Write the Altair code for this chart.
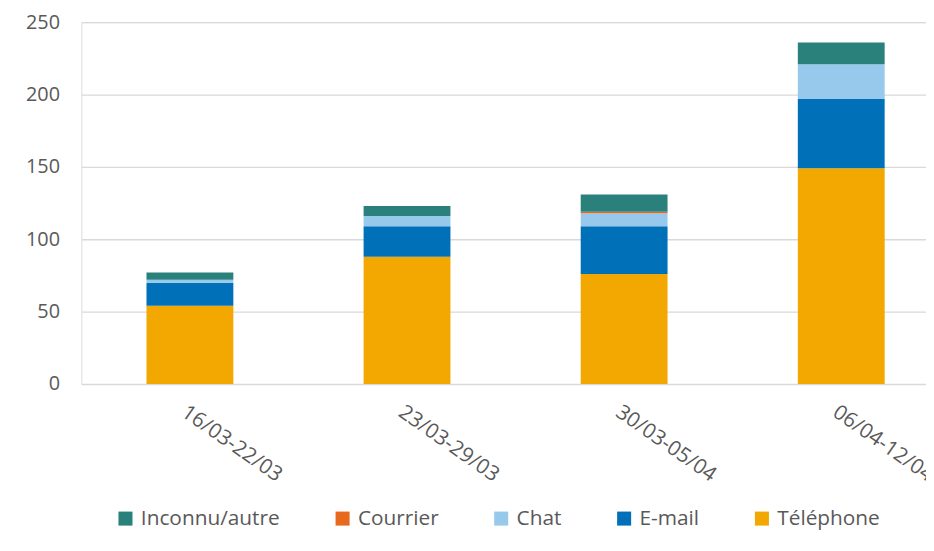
import altair as alt
import pandas as pd

weeks = ["16/03-22/03", "23/03-29/03", "30/03-05/04", "06/04-12/04"]
series = ["Inconnu/autre", "Courrier", "Chat", "E-mail", "Téléphone"]
colors = ["#2A807B", "#E8681E", "#96C9EC", "#0070B8", "#F2A800"]

telephone = [54, 88, 76, 149]
email = [16, 21, 33, 48]
chat = [2, 7, 9, 24]
courrier = [0, 0, 1, 0]
inconnu = [5, 7, 12, 15]

values = {
    "Téléphone": telephone,
    "E-mail": email,
    "Chat": chat,
    "Courrier": courrier,
    "Inconnu/autre": inconnu,
}
stack_order = {"Téléphone": 0, "E-mail": 1, "Chat": 2, "Courrier": 3, "Inconnu/autre": 4}

rows = []
for s, vals in values.items():
    for w, v in zip(weeks, vals):
        rows.append({"semaine": w, "canal": s, "valeur": v, "ordre": stack_order[s]})
df = pd.DataFrame(rows)

FONT = "Open Sans"
GREY = "#595959"

chart = alt.Chart(df).mark_bar().encode(
    x=alt.X("semaine:N", sort=weeks,
            scale=alt.Scale(range=[0, 876], paddingInner=0.6, paddingOuter=0.3),
            axis=alt.Axis(title=None, labelAngle=35, labelAlign="left", labelBaseline="top",
                          labelPadding=17, ticks=False, domain=False, labelFontSize=21,
                          labelColor=GREY, labelFont=FONT, labelOverlap=False)),
    y=alt.Y("valeur:Q", stack="zero",
            scale=alt.Scale(domain=[0, 250], nice=False),
            axis=alt.Axis(title=None, values=[0, 50, 100, 150, 200, 250], ticks=False,
                          domain=False, labelPadding=22, labelFontSize=20, labelColor=GREY,
                          labelFont=FONT, gridColor="#D9D9D9", gridWidth=1.3)),
    color=alt.Color("canal:N",
                    scale=alt.Scale(domain=series, range=colors),
                    legend=alt.Legend(title=None, orient="none", direction="horizontal",
                                      legendX=34, legendY=490, symbolType="square",
                                      symbolSize=200, symbolStrokeWidth=0, symbolOpacity=1,
                                      labelFontSize=21, labelColor=GREY, labelFont=FONT,
                                      columnPadding=52, labelOffset=5)),
    order=alt.Order("ordre:Q", sort="ascending"),
).properties(
    width=852, height=365,
    autosize=alt.AutoSizeParams(type="none"),
    padding={"left": 74, "top": 12, "right": 0, "bottom": 148},
).configure_view(stroke=None).configure(font=FONT)

chart.save("out.html", embed_options={"renderer": "svg", "actions": False})
